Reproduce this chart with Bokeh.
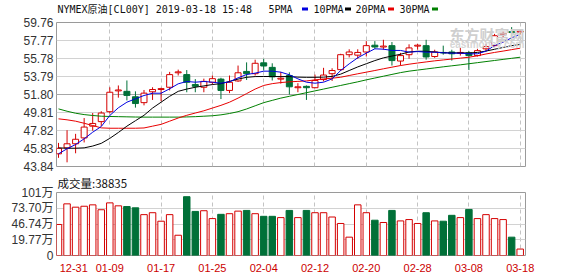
from bokeh.plotting import figure
from bokeh.layouts import column
from bokeh.models import (Range1d, FixedTicker, ColumnDataSource, Span,
                          PrintfTickFormatter, CustomJSTickFormatter)
from bokeh.core.properties import value
from bokeh.embed import file_html
from bokeh.resources import INLINE

# ---------------- data ----------------
dates = ["12-31", "01-02", "01-03", "01-04", "01-07", "01-08", "01-09", "01-10", "01-11",
         "01-14", "01-15", "01-16", "01-17", "01-18", "01-21", "01-22", "01-23", "01-24",
         "01-25", "01-28", "01-29", "01-30", "01-31", "02-01", "02-04", "02-05", "02-06",
         "02-07", "02-08", "02-11", "02-12", "02-13", "02-14", "02-15", "02-18", "02-19",
         "02-20", "02-21", "02-22", "02-25", "02-26", "02-27", "02-28", "03-01", "03-04",
         "03-05", "03-06", "03-07", "03-08", "03-11", "03-12", "03-13", "03-14", "03-15",
         "03-18"]

opens = [45.24, 45.90, 46.35, 47.00, 48.30, 48.80, 49.90, 52.20, 52.15, 51.55, 50.90, 52.10,
         52.35, 52.60, 54.20, 54.00, 52.90, 52.60, 53.15, 53.50, 52.25, 53.30, 54.35, 54.10,
         55.30, 54.80, 53.50, 53.90, 52.55, 52.70, 52.55, 53.45, 54.10, 54.55, 56.20, 56.15,
         56.50, 57.25, 57.05, 57.20, 55.50, 56.20, 57.15, 57.20, 56.00, 56.45, 56.50, 56.35,
         56.40, 56.10, 56.85, 57.20, 58.45, 58.75, 58.70]
highs = [46.45, 47.85, 47.45, 49.20, 49.75, 49.95, 52.60, 52.80, 53.35, 52.15, 52.30, 52.60,
         52.55, 54.30, 54.55, 54.50, 53.50, 53.55, 53.90, 53.65, 53.90, 55.00, 55.35, 55.65,
         55.75, 55.25, 54.30, 54.25, 53.05, 52.80, 54.00, 54.75, 54.70, 56.30, 56.80, 56.80,
         57.70, 57.70, 57.85, 57.60, 56.40, 57.35, 57.40, 57.85, 56.75, 57.20, 56.75, 56.95,
         56.60, 56.85, 57.40, 58.50, 58.75, 59.25, 58.95]
lows = [44.80, 44.30, 45.30, 46.50, 47.80, 48.30, 49.70, 51.45, 51.15, 50.35, 50.60, 51.20,
        51.05, 52.25, 53.90, 52.05, 52.05, 52.05, 52.90, 51.30, 51.95, 53.20, 53.40, 53.90,
        54.45, 53.35, 53.00, 51.80, 52.05, 51.20, 52.50, 53.25, 53.30, 54.40, 55.90, 55.75,
        56.00, 56.85, 56.75, 55.00, 55.00, 55.75, 56.75, 55.65, 55.85, 56.20, 55.55, 56.10,
        54.50, 56.00, 56.60, 57.05, 58.05, 58.15, 58.45]
closes = [45.85, 46.35, 46.85, 48.20, 48.60, 49.75, 52.05, 52.30, 51.70, 50.80, 51.95, 52.35,
          52.45, 54.00, 54.30, 53.15, 52.70, 53.25, 53.55, 52.25, 53.15, 54.20, 54.10, 55.25,
          54.95, 53.75, 53.60, 52.65, 52.65, 52.55, 53.35, 53.95, 54.45, 56.20, 56.50, 56.45,
          57.20, 57.05, 57.15, 55.55, 56.10, 56.95, 57.25, 55.95, 56.50, 56.40, 56.30, 56.45,
          56.10, 56.65, 57.10, 58.30, 58.55, 58.65, 58.80]

ma5 = [45.24, 45.80, 46.27, 46.90, 47.63, 48.26, 49.48, 50.33, 50.95, 51.32, 51.69, 51.94,
       51.94, 52.43, 52.98, 53.24, 53.16, 53.24, 53.16, 53.05, 53.20, 53.64, 54.01, 54.16,
       54.38, 54.38, 54.27, 53.98, 53.53, 53.16, 53.05, 53.16, 53.53, 54.45, 55.19, 55.86,
       56.37, 56.85, 56.81, 56.67, 56.67, 56.48, 56.55, 56.48, 56.48, 56.41, 56.37, 56.37,
       56.30, 56.30, 56.59, 57.22, 57.58, 58.07, 58.43]
ma10 = [45.90, 45.86, 45.86, 45.90, 46.10, 46.40, 46.95, 47.60, 48.30, 48.90, 49.50, 50.30,
        50.95, 51.60, 52.15, 52.40, 52.60, 52.75, 52.90, 53.00, 53.25, 53.50, 53.70, 53.78,
        53.79, 53.79, 53.78, 53.78, 53.72, 53.70, 53.70, 53.72, 53.80, 54.05, 54.45, 54.85,
        55.20, 55.55, 55.85, 56.05, 56.25, 56.50, 56.58, 56.58, 56.50, 56.42, 56.40, 56.40,
        56.40, 56.45, 56.60, 56.80, 57.00, 57.20, 57.33]
ma20 = [49.11, 49.00, 48.85, 48.62, 48.37, 48.11, 48.07, 48.07, 48.07, 48.07, 48.10, 48.30,
        48.50, 48.85, 49.20, 49.50, 49.75, 50.00, 50.30, 50.60, 50.95, 51.40, 51.90, 52.40,
        52.80, 53.00, 53.12, 53.20, 53.25, 53.30, 53.42, 53.52, 53.60, 53.71, 53.90, 54.09,
        54.27, 54.45, 54.64, 54.82, 55.00, 55.15, 55.28, 55.40, 55.52, 55.62, 55.72, 55.82,
        55.92, 56.08, 56.28, 56.45, 56.60, 56.76, 56.92]
ma30 = [50.21, 49.95, 49.73, 49.58, 49.48, 49.40, 49.37, 49.35, 49.33, 49.31, 49.30, 49.30,
        49.30, 49.30, 49.30, 49.32, 49.35, 49.40, 49.45, 49.55, 49.70, 49.90, 50.20, 50.55,
        50.90, 51.15, 51.40, 51.60, 51.80, 52.00, 52.20, 52.40, 52.60, 52.80, 53.00, 53.20,
        53.42, 53.62, 53.82, 54.02, 54.22, 54.38, 54.50, 54.62, 54.74, 54.86, 54.97, 55.08,
        55.20, 55.32, 55.44, 55.56, 55.68, 55.80, 55.92]

volumes = [46.1, 81.5, 75.8, 77.4, 79.8, 71.4, 83.2, 78.1, 76.9, 74.7, 63.0, 66.3, 51.7, 63.0,
           27.6, 93.8, 68.5, 69.7, 56.2, 63.5, 64.6, 69.0, 70.2, 64.6, 60.1, 60.1, 57.9, 70.2,
           57.9, 70.2, 66.3, 66.3, 58.9, 47.8, 24.3, 79.8, 66.3, 53.4, 49.5, 70.2, 52.2, 54.5,
           47.8, 66.3, 52.2, 51.7, 61.8, 57.9, 71.9, 56.2, 63.0, 56.2, 54.5, 24.3, 3.8835]
latest_volume = 38835

price_ticks = [43.84, 45.83, 47.82, 49.81, 51.80, 53.79, 55.78, 57.77, 59.76]
vol_ticks = [-7.19, 19.77, 46.74, 73.70, 101.0]
vol_tick_labels = ["0", "19.77万", "46.74万", "73.70万", "101万"]
date_grid_idx = [6, 12, 18, 24, 30, 36, 42, 48, 54]
date_label_idx = [0] + date_grid_idx

title_text = "NYMEX原油[CL00Y] 2019-03-18 15:48"
legend_names = ["5PMA", "10PMA", "20PMA", "30PMA"]
volume_title = "成交量:" + str(latest_volume)

# ---------------- styles ----------------
RED = "#d40000"
GREEN = "#007038"
MA_COLORS = ["#0000e0", "#000000", "#e80000", "#008000"]
GRID = "#d2d2d2"
FRAME = "#9a9a9a"
LABEL = "#333333"
W = 578
BL, BR = 56, 53          # left / right borders shared by every panel

idx = list(range(len(dates)))
up = [c >= o for o, c in zip(opens, closes)]
src = ColumnDataSource(dict(
    x=idx, o=opens, h=highs, l=lows, c=closes,
    top=[max(o, c) for o, c in zip(opens, closes)],
    bot=[min(o, c) for o, c in zip(opens, closes)],
    line=[RED if u else GREEN for u in up],
    fill=["white" if u else GREEN for u in up],
    vol=volumes,
    vbase=[vol_ticks[0]] * len(idx),
))

xr = Range1d(-0.234, 54.62)

# ---------------- header strip (title + MA legend) ----------------
H0 = 15
h0 = figure(width=W, height=H0, x_range=Range1d(BL, W - BR), y_range=Range1d(0, H0),
            output_backend="svg", toolbar_location=None, x_axis_location=None,
            y_axis_location=None, min_border_left=BL, min_border_right=BR,
            min_border_top=0, min_border_bottom=0,
            background_fill_color="white", border_fill_color="white")
h0.outline_line_color = None
h0.grid.visible = False
mono = value("DejaVu Sans Mono, Noto Sans CJK SC")
h0.text(x=[57], y=[H0 - 8.5], text=[title_text], text_font=mono, text_font_size="10px",
        text_color="#111111", text_baseline="middle")
legend_x = [268, 313, 355, 399]
swatch_x = [304.5, 347.5, 390.5, 434.5]
h0.text(x=legend_x, y=[H0 - 8.5] * 4, text=legend_names, text_font=mono,
        text_font_size="10px", text_color="#111111", text_baseline="middle")
h0.rect(x=swatch_x, y=[H0 - 8.5] * 4, width=6, height=3, fill_color=MA_COLORS,
        line_color=None)

# ---------------- price panel ----------------
P1H = 159
p1 = figure(width=W, height=P1H, x_range=xr, y_range=Range1d(price_ticks[0], price_ticks[-1]),
            output_backend="svg", toolbar_location=None, x_axis_location=None,
            min_border_left=BL, min_border_right=BR, min_border_top=7, min_border_bottom=8,
            background_fill_color="white", border_fill_color="white")
p1.outline_line_color = FRAME
p1.yaxis.ticker = FixedTicker(ticks=price_ticks)
p1.yaxis.formatter = PrintfTickFormatter(format="%.2f")
p1.yaxis.axis_line_color = None
p1.yaxis.major_tick_line_color = None
p1.yaxis.minor_tick_line_color = None
p1.yaxis.major_tick_out = 0
p1.yaxis.major_tick_in = 0
p1.yaxis.major_label_standoff = 3
p1.yaxis.major_label_text_font = "Liberation Sans"
p1.yaxis.major_label_text_font_size = "12px"
p1.yaxis.major_label_text_color = LABEL
p1.ygrid.grid_line_color = GRID
p1.xgrid.ticker = FixedTicker(ticks=date_grid_idx)
p1.xgrid.grid_line_color = "#c4c4c4"
p1.xgrid.grid_line_dash = "4 3"

p1.add_layout(Span(location=price_ticks[4], dimension="width", line_color="#a6a6a6",
                   line_width=1, level="underlay"))

p1.segment(x0="x", y0="h", x1="x", y1="l", source=src, line_color="line", line_width=1)
p1.vbar(x="x", width=0.7, top="top", bottom="bot", source=src,
        fill_color="fill", line_color="line", line_width=1)

for ma, col in zip([ma30, ma20, ma10, ma5], MA_COLORS[::-1]):
    p1.line(idx, ma, line_color=col, line_width=1)

# watermark (inside the frame)
p1.text(x=[xr.end], y=[price_ticks[-1]], x_offset=-1, y_offset=1, text=["东方财富网"],
        text_font=value("Noto Sans CJK SC"), text_font_style="bold", text_font_size="15px",
        text_color="#cfcfcf", text_align="right", text_baseline="top")
p1.text(x=[xr.end], y=[price_ticks[-1]], x_offset=-1, y_offset=16, text=["eastmoney.com"],
        text_font=value("Liberation Sans"), text_font_style="bold", text_font_size="10px",
        text_color="#d6d6d6", text_align="right", text_baseline="top")

# ---------------- volume panel ----------------
p2 = figure(width=W, height=276 - H0 - P1H, x_range=xr,
            y_range=Range1d(vol_ticks[0], vol_ticks[-1]),
            output_backend="svg", toolbar_location=None,
            min_border_left=BL, min_border_right=BR, min_border_top=18, min_border_bottom=20,
            background_fill_color="white", border_fill_color="white")
p2.title.text = volume_title
p2.title.align = "left"
p2.title.offset = 1
p2.title.standoff = 0
p2.title.vertical_align = "top"
p2.title.text_font = "Noto Sans CJK SC"
p2.title.text_font_style = "normal"
p2.title.text_font_size = "11.5px"
p2.title.text_color = "#111111"
p2.outline_line_color = FRAME
p2.yaxis.ticker = FixedTicker(ticks=vol_ticks)
p2.yaxis.formatter = CustomJSTickFormatter(
    args=dict(vals=vol_ticks, labs=vol_tick_labels),
    code="for (let i = 0; i < vals.length; i++) { if (Math.abs(vals[i] - tick) < 1e-6) return labs[i]; } return '';")
p2.xaxis.ticker = FixedTicker(ticks=date_label_idx)
# first label is pushed right (so it starts inside the frame), like the reference
p2.xaxis.formatter = CustomJSTickFormatter(
    args=dict(labs=dates),
    code="const i = Math.round(tick); if (i < 0 || i >= labs.length) return ''; "
         "return i === 0 ? '\\u00a0'.repeat(10) + labs[i] : labs[i];")
for ax in (p2.xaxis, p2.yaxis):
    ax.axis_line_color = None
    ax.major_tick_line_color = None
    ax.minor_tick_line_color = None
    ax.major_tick_out = 0
    ax.major_tick_in = 0
p2.yaxis.major_label_standoff = 3
p2.yaxis.major_label_text_font = "Liberation Sans, Noto Sans CJK SC"
p2.yaxis.major_label_text_font_size = "12px"
p2.yaxis.major_label_text_color = LABEL
p2.xaxis.major_label_standoff = 6
p2.xaxis.major_label_text_font = "Liberation Sans"
p2.xaxis.major_label_text_font_size = "11px"
p2.xaxis.major_label_text_color = "#cc0000"
p2.ygrid.grid_line_color = GRID
p2.xgrid.ticker = FixedTicker(ticks=date_grid_idx)
p2.xgrid.grid_line_color = "#c4c4c4"
p2.xgrid.grid_line_dash = "4 3"

p2.vbar(x="x", width=0.76, top="vol", bottom="vbase", source=src,
        fill_color="fill", line_color="line", line_width=1)

layout = column(h0, p1, p2, spacing=0)
open("out.html", "w").write(file_html(layout, INLINE))
